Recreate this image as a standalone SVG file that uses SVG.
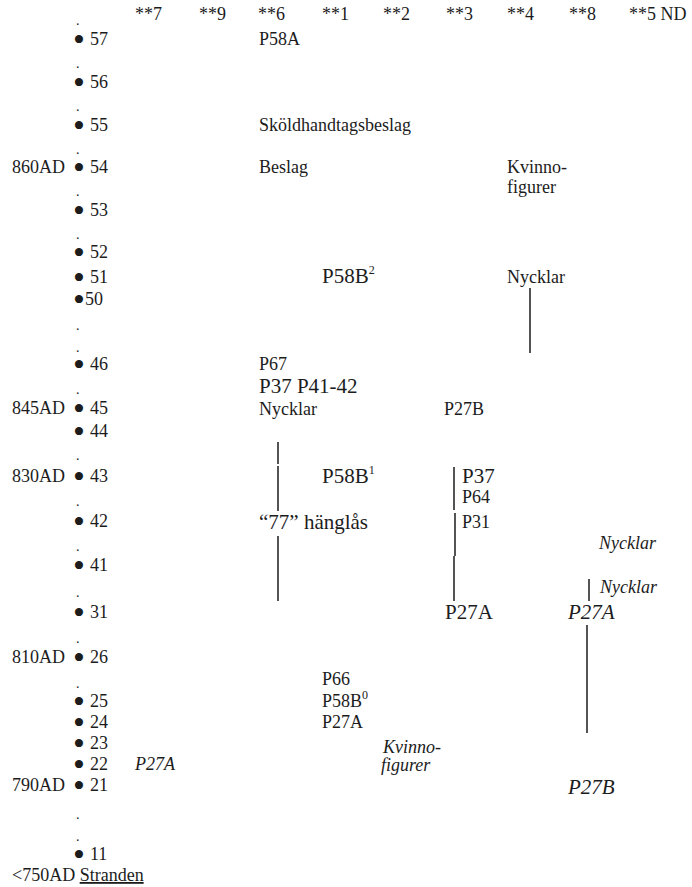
<svg xmlns="http://www.w3.org/2000/svg" width="692" height="887" viewBox="0 0 692 887">
<style>
text{font-family:"Liberation Serif","Times New Roman",serif;fill:#1c1c1c;}
.s{font-size:18px;}
.b{font-size:21px;}
.i{font-style:italic;}
.dot{font-size:14px;}
.bul{font-size:34px;}
.sup{font-size:12px;}
.ln{stroke:#2a2a2a;stroke-width:1.6;fill:none;}
</style>
<rect width="692" height="887" fill="#ffffff"/>
<g id="header" class="s">
<text x="135" y="20">**7</text>
<text x="199" y="20">**9</text>
<text x="258" y="20">**6</text>
<text x="322" y="20">**1</text>
<text x="383" y="20">**2</text>
<text x="446" y="20">**3</text>
<text x="507" y="20">**4</text>
<text x="569" y="20">**8</text>
<text x="629" y="20">**5 ND</text>
</g>
<g id="axis-dots" class="dot">
<text x="76" y="25">.</text>
<text x="76" y="68">.</text>
<text x="76" y="111">.</text>
<text x="76" y="154">.</text>
<text x="76" y="196">.</text>
<text x="76" y="239">.</text>
<text x="76" y="330">.</text>
<text x="76" y="352">.</text>
<text x="76" y="394">.</text>
<text x="76" y="460">.</text>
<text x="76" y="506">.</text>
<text x="76" y="551">.</text>
<text x="76" y="597">.</text>
<text x="76" y="643">.</text>
<text x="76" y="688">.</text>
<text x="76" y="819">.</text>
<text x="76" y="841">.</text>
</g>
<g id="axis-levels" class="s">
<text x="73" y="45"><tspan class="bul" dy="6">•</tspan><tspan x="90" dy="-6">57</tspan></text>
<text x="73" y="88"><tspan class="bul" dy="6">•</tspan><tspan x="90" dy="-6">56</tspan></text>
<text x="73" y="131"><tspan class="bul" dy="6">•</tspan><tspan x="90" dy="-6">55</tspan></text>
<text x="73" y="173"><tspan class="bul" dy="6">•</tspan><tspan x="90" dy="-6">54</tspan></text>
<text x="73" y="216"><tspan class="bul" dy="6">•</tspan><tspan x="90" dy="-6">53</tspan></text>
<text x="73" y="258"><tspan class="bul" dy="6">•</tspan><tspan x="90" dy="-6">52</tspan></text>
<text x="73" y="283"><tspan class="bul" dy="6">•</tspan><tspan x="90" dy="-6">51</tspan></text>
<text x="73" y="305"><tspan class="bul" dy="6">•</tspan><tspan x="85" dy="-6">50</tspan></text>
<text x="73" y="370"><tspan class="bul" dy="6">•</tspan><tspan x="90" dy="-6">46</tspan></text>
<text x="73" y="414"><tspan class="bul" dy="6">•</tspan><tspan x="90" dy="-6">45</tspan></text>
<text x="73" y="437"><tspan class="bul" dy="6">•</tspan><tspan x="90" dy="-6">44</tspan></text>
<text x="73" y="482"><tspan class="bul" dy="6">•</tspan><tspan x="90" dy="-6">43</tspan></text>
<text x="73" y="527"><tspan class="bul" dy="6">•</tspan><tspan x="90" dy="-6">42</tspan></text>
<text x="73" y="571"><tspan class="bul" dy="6">•</tspan><tspan x="90" dy="-6">41</tspan></text>
<text x="73" y="618"><tspan class="bul" dy="6">•</tspan><tspan x="90" dy="-6">31</tspan></text>
<text x="73" y="663"><tspan class="bul" dy="6">•</tspan><tspan x="90" dy="-6">26</tspan></text>
<text x="73" y="707"><tspan class="bul" dy="6">•</tspan><tspan x="90" dy="-6">25</tspan></text>
<text x="73" y="728"><tspan class="bul" dy="6">•</tspan><tspan x="90" dy="-6">24</tspan></text>
<text x="73" y="749"><tspan class="bul" dy="6">•</tspan><tspan x="90" dy="-6">23</tspan></text>
<text x="73" y="770"><tspan class="bul" dy="6">•</tspan><tspan x="90" dy="-6">22</tspan></text>
<text x="73" y="791"><tspan class="bul" dy="6">•</tspan><tspan x="90" dy="-6">21</tspan></text>
<text x="73" y="860"><tspan class="bul" dy="6">•</tspan><tspan x="90" dy="-6">11</tspan></text>
</g>
<g id="dates" class="s">
<text x="12" y="173">860AD</text>
<text x="12" y="414">845AD</text>
<text x="12" y="482">830AD</text>
<text x="12" y="663">810AD</text>
<text x="12" y="791">790AD</text>
<text x="12" y="881">&lt;750AD <tspan text-decoration="underline">Stranden</tspan></text>
</g>
<g id="col6">
<text class="s" x="259" y="45">P58A</text>
<text class="s" x="259" y="131">Sköldhandtagsbeslag</text>
<text class="s" x="259" y="173">Beslag</text>
<text class="s" x="259" y="370">P67</text>
<text class="b" x="259" y="393">P37 P41-42</text>
<text class="s" x="259" y="415">Nycklar</text>
<text class="b" x="259" y="529">“77” hänglås</text>
</g>
<g id="col1">
<text class="b" x="322" y="283">P58B<tspan class="sup" dy="-9">2</tspan></text>
<text class="b" x="322" y="483">P58B<tspan class="sup" dy="-9">1</tspan></text>
<text class="s" x="322" y="685">P66</text>
<text class="s" x="322" y="707">P58B<tspan class="sup" dy="-8">0</tspan></text>
<text class="s" x="322" y="728">P27A</text>
</g>
<g id="col2" class="s i">
<text x="383" y="753">Kvinno-</text>
<text x="381" y="771">figurer</text>
</g>
<g id="col3">
<text class="s" x="444" y="415">P27B</text>
<text class="b" x="462" y="483">P37</text>
<text class="s" x="462" y="503">P64</text>
<text class="s" x="462" y="528">P31</text>
<text class="b" x="445" y="619">P27A</text>
</g>
<g id="col4" class="s">
<text x="507" y="173">Kvinno-</text>
<text x="507" y="193">figurer</text>
<text x="507" y="283">Nycklar</text>
</g>
<g id="col8">
<text class="s i" x="599" y="549">Nycklar</text>
<text class="s i" x="600" y="593">Nycklar</text>
<text class="b i" x="568" y="619">P27A</text>
<text class="b i" x="568" y="794">P27B</text>
</g>
<g id="col7">
<text class="s i" x="135" y="770">P27A</text>
</g>
<g id="connectors" class="ln">
<line x1="278" y1="442" x2="278" y2="464"/>
<line x1="278" y1="466" x2="278" y2="511"/>
<line x1="278" y1="536" x2="278" y2="601"/>
<line x1="454" y1="467" x2="454" y2="510"/>
<line x1="455" y1="513" x2="455" y2="556"/>
<line x1="454" y1="556" x2="454" y2="601"/>
<line x1="530" y1="288" x2="530" y2="353"/>
<line x1="589" y1="579" x2="589" y2="601"/>
<line x1="587" y1="625" x2="587" y2="733"/>
</g>
</svg>
